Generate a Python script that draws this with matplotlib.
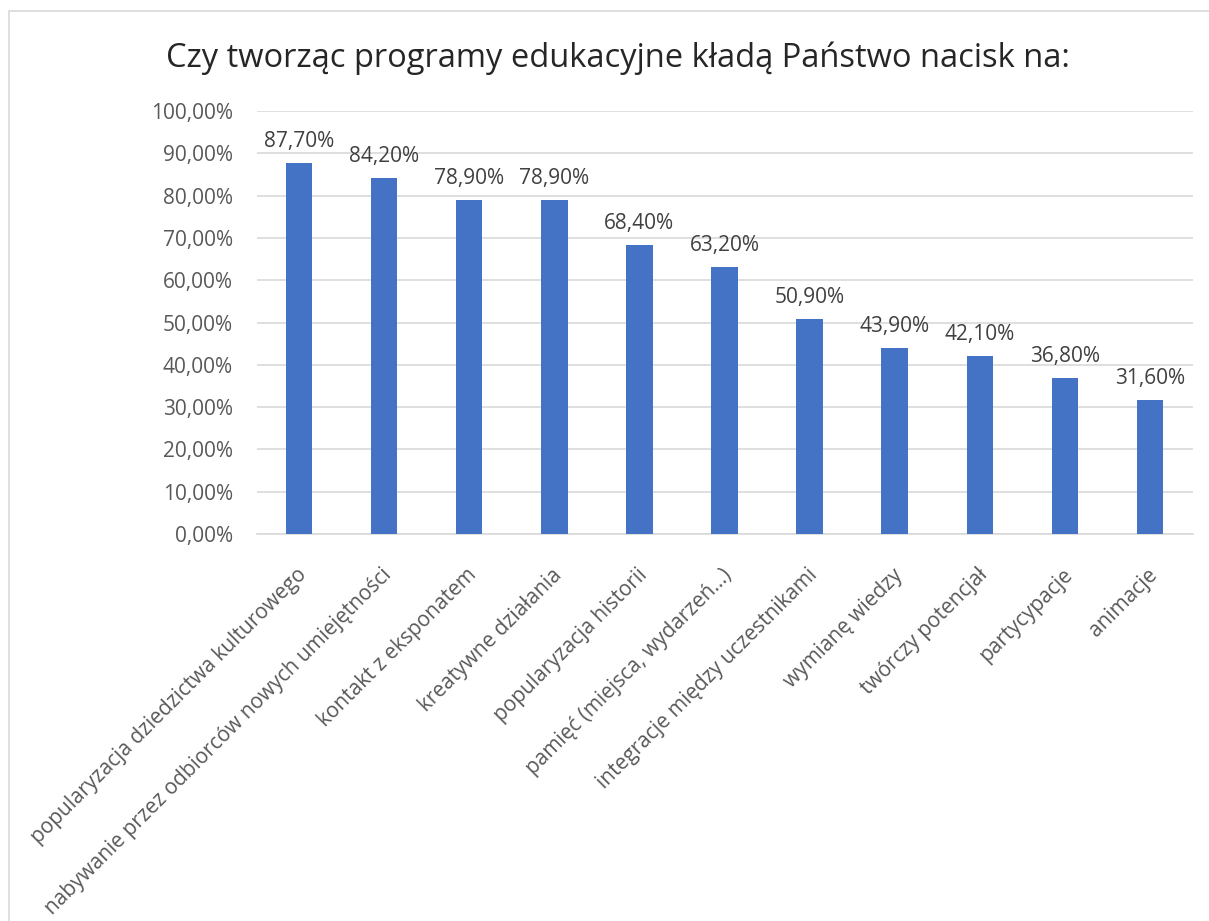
import matplotlib
matplotlib.use("Agg")
import matplotlib.pyplot as plt
from matplotlib.patches import Rectangle
from matplotlib.ticker import FuncFormatter

plt.rcParams['font.family'] = ['Open Sans', 'DejaVu Sans']

title = "Czy tworząc programy edukacyjne kładą Państwo nacisk na:"
categories = [
    "popularyzacja dziedzictwa kulturowego",
    "nabywanie przez odbiorców nowych umiejętności",
    "kontakt z eksponatem",
    "kreatywne działania",
    "popularyzacja historii",
    "pamięć (miejsca, wydarzeń…)",
    "integracje między uczestnikami",
    "wymianę wiedzy",
    "twórczy potencjał",
    "partycypacje",
    "animacje",
]
values = [0.877, 0.842, 0.789, 0.789, 0.684, 0.632, 0.509, 0.439, 0.421, 0.368, 0.316]
yticks = [i / 10 for i in range(11)]

bar_color = "#4472C4"
text_color = "#595959"
grid_color = "#D9D9D9"


def pct(v, pos=None):
    return f"{v * 100:.2f}%".replace(".", ",")


fig = plt.figure(figsize=(12.09, 9.21), dpi=100)

# chart frame
fig.patches.append(Rectangle((9 / 1209, -0.01), 1.02, 1 - 11 / 921 + 0.01,
                             transform=fig.transFigure, fill=False,
                             edgecolor=grid_color, linewidth=1.2))

ax = fig.add_axes([256.5 / 1209, 1 - 534 / 921, 936 / 1209, 423 / 921])
x = range(len(categories))
ax.bar(x, values, width=0.31, color=bar_color, zorder=3)

ax.set_xlim(-0.5, len(categories) - 0.5)
ax.set_ylim(0, 1)
ax.set_yticks(yticks)
ax.yaxis.set_major_formatter(FuncFormatter(pct))
ax.grid(axis="y", color=grid_color, linewidth=1.2, zorder=0)
for side in ["top", "right", "left"]:
    ax.spines[side].set_visible(False)
ax.spines["bottom"].set_color(grid_color)
ax.spines["bottom"].set_linewidth(1.2)
ax.tick_params(axis="y", length=0, pad=17, labelsize=15, labelcolor=text_color)
ax.tick_params(axis="x", length=0)

ax.set_xticks(list(x))
ax.set_xticklabels([])
for i, name in enumerate(categories):
    ax.annotate(name, xy=(i, 0), xycoords="data", xytext=(-2, -22),
                textcoords="offset points", rotation=45, ha="right", va="top",
                rotation_mode="anchor", fontsize=15, color=text_color)

for i, v in enumerate(values):
    ax.annotate(pct(v), xy=(i, v), xytext=(0, 8), textcoords="offset points",
                ha="center", va="bottom", fontsize=15, color="#404040")

fig.text(618 / 1209, 1 - 58 / 921, title, ha="center", va="center",
         fontsize=23.5, color="#262626")

fig.savefig("out.png", dpi=100)
